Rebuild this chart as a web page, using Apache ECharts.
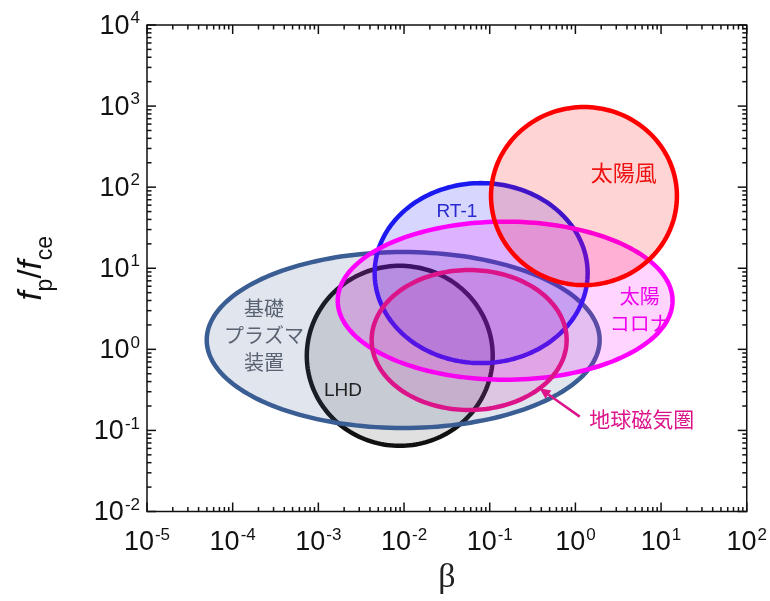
<!DOCTYPE html>
<html><head><meta charset="utf-8">
<script src="https://cdn.jsdelivr.net/npm/echarts@6/dist/echarts.min.js"></script>
<style>html,body{margin:0;padding:0;background:#fff}#c{width:770px;height:601px}</style>
</head><body><div id="c"></div>
<script>
// ---- data (log10 decades) ----
const regionNames   = ['LHD', '基礎プラズマ装置', 'RT-1', '太陽コロナ', '太陽風', '地球磁気圏'];
const centerBetaLog = [-2.05, -2.01, -1.10, -0.82, 0.10, -1.24];
const centerRatioLog= [-0.08, 0.115, 0.94, 0.60, 1.89, 0.115];
const spanBetaLog   = [1.085, 2.293, 1.243, 1.954, 1.085, 1.138];
const spanRatioLog  = [1.11, 1.085, 1.11, 0.975, 1.098, 0.863];
const labelTexts    = ['LHD', '基礎\nプラズマ\n装置', 'RT-1', '太陽\nコロナ', '太陽風', '地球磁気圏'];
const labelBetaLog  = [-2.713, -3.635, -1.383, 0.752, 0.565, 0.775];
const labelRatioLog = [-0.51, 0.152, 1.70, 0.46, 2.15, -0.884];
const arrowFromLog  = [0.05, -0.83];
const arrowToLog    = [-0.42, -0.48];
const xTickExponents = [-5, -4, -3, -2, -1, 0, 1, 2];
const yTickExponents = [-2, -1, 0, 1, 2, 3, 4];

// ---- styles ----
const strokeColors = ['#111111', '#3a5d93', '#1a1af0', '#ff00ff', '#ff0000', '#dc148a'];
const fillColors = ['rgba(0,0,0,0.12)', 'rgba(61,95,148,0.16)', 'rgba(0,0,255,0.16)',
                    'rgba(255,0,255,0.17)', 'rgba(255,0,0,0.17)', 'rgba(200,20,160,0.15)'];
const labelColors = ['#222222', '#5a6372', '#2a2ad0', '#ee00ee', '#ee1111', '#dc148a'];
const labelSizes = [19, 20, 19, 20, 22, 21];
const FONT = '"Liberation Sans", "Noto Sans CJK JP", sans-serif';

const P = v => Math.pow(10, v);
const xMin = P(xTickExponents[0]), xMax = P(xTickExponents[xTickExponents.length - 1]);
const yMin = P(yTickExponents[0]), yMax = P(yTickExponents[yTickExponents.length - 1]);

const ellipseData = regionNames.map((n, i) => ({ name: n, value: [P(centerBetaLog[i]), P(centerRatioLog[i]), i] }));
const labelData = labelTexts.map((t, i) => ({ name: t, value: [P(labelBetaLog[i]), P(labelRatioLog[i]), i] }));

// tick data (decade majors + 2..9 minors)
const tickData = [];
for (let k = 0; k < xTickExponents.length; k++) {
  const e = xTickExponents[k];
  const maxM = (k === xTickExponents.length - 1) ? 1 : 9;
  for (let m = 1; m <= maxM; m++) tickData.push([m * P(e), 1, m === 1 ? 1 : 0, 0]);
}
for (let k = 0; k < yTickExponents.length; k++) {
  const e = yTickExponents[k];
  const maxM = (k === yTickExponents.length - 1) ? 1 : 9;
  for (let m = 1; m <= maxM; m++) tickData.push([1, m * P(e), m === 1 ? 1 : 0, 1]);
}

function expLabel(v) {
  const e = Math.round(Math.log10(v));
  return '{b|10}{s|' + e + '}';
}
const richTick = {
  b: { fontSize: 27, fontFamily: '"Liberation Sans", Arial, sans-serif', color: '#111', lineHeight: 30, verticalAlign: 'bottom' },
  s: { fontSize: 17, fontFamily: '"Liberation Sans", Arial, sans-serif', color: '#111', lineHeight: 30, verticalAlign: 'top', padding: [0, 0, 0, 1] }
};

const chart = echarts.init(document.getElementById('c'), null, { renderer: 'canvas' });
chart.setOption({
  animation: false,
  backgroundColor: '#fff',
  grid: { left: 147, right: 23, top: 25, bottom: 89.5, show: true, borderColor: '#111', borderWidth: 1.5, containLabel: false },
  xAxis: {
    type: 'log', logBase: 10, min: xMin, max: xMax,
    axisLine: { show: false }, axisTick: { show: false }, splitLine: { show: false },
    axisLabel: { formatter: expLabel, rich: richTick, margin: 15 },
    name: 'β', nameLocation: 'middle', nameGap: 48,
    nameTextStyle: { fontSize: 34, color: '#222', fontFamily: '"Liberation Serif", "DejaVu Serif", serif', verticalAlign: 'top' }
  },
  yAxis: {
    type: 'log', logBase: 10, min: yMin, max: yMax,
    axisLine: { show: false }, axisTick: { show: false }, splitLine: { show: false },
    axisLabel: { formatter: expLabel, rich: richTick, margin: 7 },
    name: '{i|f}{sub|p}{n|/}{i|f}{sub|ce}', nameLocation: 'middle', nameGap: 90, nameRotate: 90,
    nameTextStyle: {
      rich: {
        i: { fontSize: 33, fontStyle: 'italic', fontFamily: '"Liberation Sans", Arial, sans-serif', color: '#111', lineHeight: 42, verticalAlign: 'top' },
        n: { fontSize: 33, fontFamily: '"Liberation Sans", Arial, sans-serif', color: '#111', lineHeight: 42, verticalAlign: 'top' },
        sub: { fontSize: 23, fontFamily: '"Liberation Sans", Arial, sans-serif', color: '#111', lineHeight: 42, verticalAlign: 'bottom' }
      }
    }
  },
  series: [
    {
      type: 'custom', coordinateSystem: 'cartesian2d', encode: { x: 0, y: 1 }, silent: true, z: 2,
      data: ellipseData,
      renderItem: function (params, api) {
        const i = api.value(2);
        const pts = [];
        for (let d = 0; d < 360; d += 2) {
          const t = d * Math.PI / 180;
          pts.push(api.coord([P(centerBetaLog[i] + spanBetaLog[i] * Math.cos(t)),
                              P(centerRatioLog[i] + spanRatioLog[i] * Math.sin(t))]));
        }
        return {
          type: 'polygon', shape: { points: pts },
          style: { fill: fillColors[i], stroke: strokeColors[i], lineWidth: 4.5 }
        };
      }
    },
    {
      type: 'custom', coordinateSystem: 'cartesian2d', encode: { x: 0, y: 1 }, silent: true, z: 3,
      data: [[P(arrowFromLog[0]), P(arrowFromLog[1])]],
      renderItem: function (params, api) {
        const a = api.coord([P(arrowFromLog[0]), P(arrowFromLog[1])]);
        const b = api.coord([P(arrowToLog[0]), P(arrowToLog[1])]);
        const ang = Math.atan2(b[1] - a[1], b[0] - a[0]);
        const L = 11, W = 5;
        const base = [b[0] - L * Math.cos(ang), b[1] - L * Math.sin(ang)];
        const nx = -Math.sin(ang), ny = Math.cos(ang);
        return {
          type: 'group', children: [
            { type: 'line', shape: { x1: a[0], y1: a[1], x2: base[0], y2: base[1] }, style: { stroke: strokeColors[5], lineWidth: 2.5 } },
            { type: 'polygon', shape: { points: [b, [base[0] + nx * W, base[1] + ny * W], [base[0] - nx * W, base[1] - ny * W]] }, style: { fill: strokeColors[5] } }
          ]
        };
      }
    },
    {
      type: 'custom', coordinateSystem: 'cartesian2d', encode: { x: 0, y: 1 }, silent: true, z: 4,
      data: labelData,
      renderItem: function (params, api) {
        const i = api.value(2);
        const p = api.coord([api.value(0), api.value(1)]);
        return {
          type: 'text', x: p[0], y: p[1],
          style: {
            text: labelTexts[i], fill: labelColors[i], fontSize: labelSizes[i], fontFamily: FONT,
            align: 'center', verticalAlign: 'middle', lineHeight: 27
          }
        };
      }
    },
    {
      type: 'custom', coordinateSystem: 'cartesian2d', encode: { x: 0, y: 1 }, silent: true, z: 5, clip: false,
      data: tickData,
      renderItem: function (params, api) {
        const cs = params.coordSys;
        const major = api.value(2) === 1;
        const len = major ? 9 : 4.5;
        const p = api.coord([api.value(0), api.value(1)]);
        const st = { stroke: '#111', lineWidth: 1.5 };
        if (api.value(3) === 0) {
          const x = p[0], yb = cs.y + cs.height, yt = cs.y;
          return { type: 'group', children: [
            { type: 'line', shape: { x1: x, y1: yb, x2: x, y2: yb - len }, style: st },
            { type: 'line', shape: { x1: x, y1: yt, x2: x, y2: yt + len }, style: st }
          ] };
        } else {
          const y = p[1], xl = cs.x, xr = cs.x + cs.width;
          return { type: 'group', children: [
            { type: 'line', shape: { x1: xl, y1: y, x2: xl + len, y2: y }, style: st },
            { type: 'line', shape: { x1: xr, y1: y, x2: xr - len, y2: y }, style: st }
          ] };
        }
      }
    }
  ]
});
</script></body></html>
